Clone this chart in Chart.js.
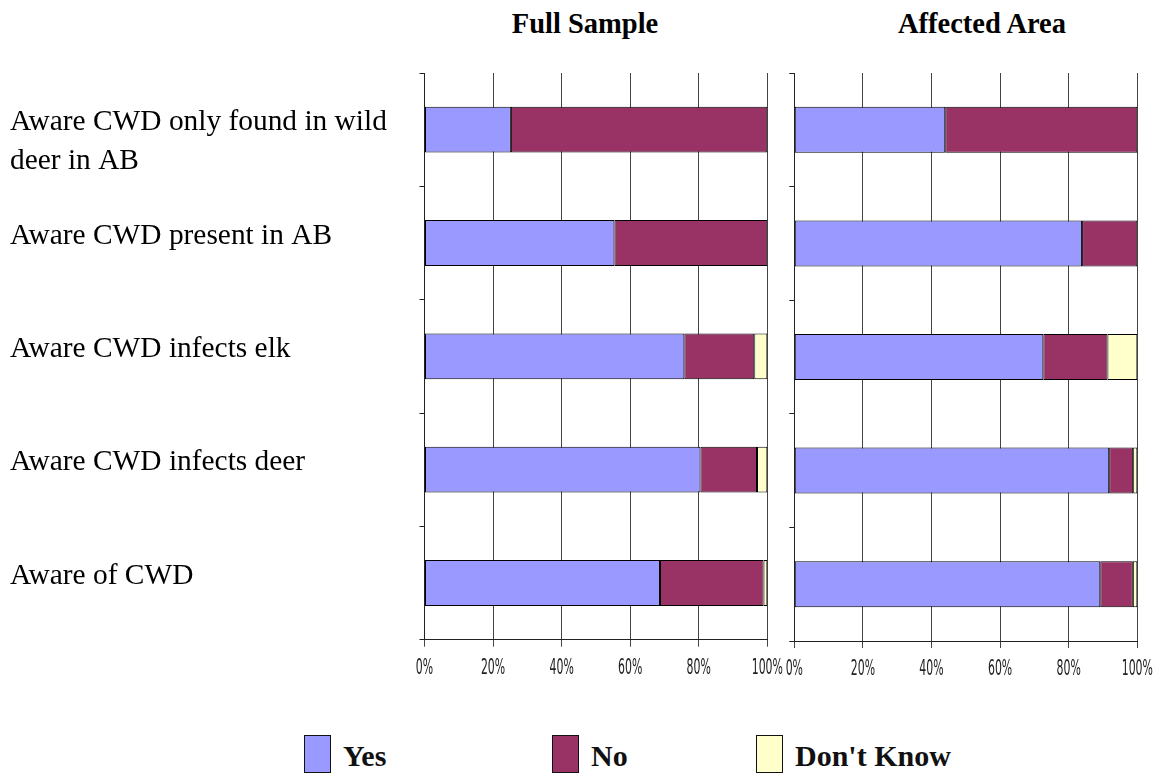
<!DOCTYPE html>
<html>
<head>
<meta charset="utf-8">
<script src="https://cdn.jsdelivr.net/npm/chart.js@4/dist/chart.umd.min.js"></script>
<style>
  html, body { margin: 0; padding: 0; background: #fff; }
  body { width: 1155px; height: 774px; position: relative; overflow: hidden; font-family: "Liberation Serif", "Times New Roman", serif; }
  canvas { position: absolute; top: 0; }
  .ptitle { position: absolute; top: 8px; font: bold 28.5px "Liberation Serif", serif; color: #000; transform: translateX(-50%); white-space: nowrap; }
  .leg { position: absolute; top: 734px; height: 39px; display: flex; align-items: center; }
  .leg .box { width: 25px; height: 36px; border: 1.5px solid #111; box-sizing: content-box; }
  .leg .txt { margin-left: 12px; font: bold 30px "Liberation Serif", serif; color: #111; position: relative; top: 2px; white-space: nowrap; }
</style>
</head>
<body>
<div class="ptitle" id="t1" style="left:585px"></div>
<div class="ptitle" id="t2" style="left:982px"></div>
<canvas id="c1" width="800" height="700" style="left:0px"></canvas>
<canvas id="c2" width="420" height="700" style="left:760px"></canvas>
<div id="legend"></div>
<script>
// ---- data ----
const panelTitles = ['Full Sample', 'Affected Area'];
const categories = [
  ['Aware CWD only found in wild', 'deer in AB'],
  'Aware CWD present in AB',
  'Aware CWD infects elk',
  'Aware CWD infects deer',
  'Aware of CWD'
];
const seriesNames = ['Yes', 'No', "Don't Know"];
const seriesColors = ['#9999FF', '#993366', '#FFFFCC'];
const fullYes = [25.2, 55.4, 75.8, 80.5, 68.7];
const fullNo  = [74.8, 44.6, 20.4, 16.5, 30.2];
const fullDK  = [0, 0, 3.8, 3.0, 1.1];
const areaYes = [44.0, 83.9, 72.6, 91.8, 89.2];
const areaNo  = [56.0, 16.1, 18.7, 7.0, 9.5];
const areaDK  = [0, 0, 8.7, 1.2, 1.3];
const xTicks = [0, 20, 40, 60, 80, 100];

document.getElementById('t1').textContent = panelTitles[0];
document.getElementById('t2').textContent = panelTitles[1];

// legend (HTML)
const legLefts = [304, 552, 756];
const legend = document.getElementById('legend');
seriesNames.forEach((n, i) => {
  const d = document.createElement('div');
  d.className = 'leg';
  d.style.left = legLefts[i] + 'px';
  d.innerHTML = '<div class="box" style="background:' + seriesColors[i] + '"></div><div class="txt"></div>';
  d.querySelector('.txt').textContent = n;
  legend.appendChild(d);
});

// narrow x tick labels: drawn at the x scale's own tick pixels, horizontally condensed
const narrowTicks = {
  id: 'narrowTicks',
  afterDraw(chart) {
    const s = chart.scales.x;
    const ctx = chart.ctx;
    ctx.save();
    ctx.fillStyle = '#222';
    ctx.font = '21px "DejaVu Sans", sans-serif';
    ctx.textAlign = 'center';
    ctx.textBaseline = 'middle';
    s.ticks.forEach((t) => {
      const x = s.getPixelForValue(t.value);
      ctx.save();
      ctx.translate(x, s.bottom - 30);
      ctx.scale(0.52, 1);
      ctx.fillText(t.value + '%', 0, 0);
      ctx.restore();
    });
    ctx.restore();
  }
};

function makeDatasets(arrs) {
  return arrs.map((a, i) => ({
    label: seriesNames[i],
    data: a,
    backgroundColor: seriesColors[i],
    borderColor: '#000',
    borderWidth: 1,
    borderSkipped: false,
    barPercentage: 0.405,
    categoryPercentage: 1.0
  }));
}

function makeChart(id, arrs, showLabels, yWidth, padLeft, padRight) {
  return new Chart(document.getElementById(id), {
    type: 'bar',
    data: { labels: categories, datasets: makeDatasets(arrs) },
    plugins: [narrowTicks],
    options: {
      indexAxis: 'y',
      responsive: false,
      animation: false,
      layout: { padding: { top: 73, left: padLeft, right: padRight, bottom: 0 } },
      plugins: { legend: { display: false }, tooltip: { enabled: false } },
      scales: {
        x: {
          stacked: true,
          min: 0, max: 100,
          afterBuildTicks: (s) => { s.ticks = xTicks.map(v => ({ value: v })); },
          grid: { color: '#444', lineWidth: 1, drawTicks: true, tickLength: 7 },
          border: { display: true, color: '#222', width: 1 },
          ticks: { display: false },
          afterFit: (s) => { s.height = 59; }
        },
        y: {
          stacked: true,
          grid: { offset: true, drawOnChartArea: false, drawTicks: true, tickLength: 5, color: '#222' },
          border: { display: true, color: '#222', width: 1 },
          ticks: {
            display: showLabels,
            crossAlign: 'far',
            labelOffset: -7,
            autoSkip: false,
            color: '#000',
            font: { family: '"Liberation Serif", "Times New Roman", serif', size: 29.4, lineHeight: 1.3 },
            callback: function (v, i) {
              const l = categories[i];
              return Array.isArray(l) ? [''].concat(l) : l;
            }
          },
          afterFit: (s) => { s.width = yWidth; }
        }
      }
    }
  });
}

makeChart('c1', [fullYes, fullNo, fullDK], true, 414.5, 10, 32.7);
makeChart('c2', [areaYes, areaNo, areaDK], false, 34.3, 0, 42.7);
</script>
</body>
</html>
